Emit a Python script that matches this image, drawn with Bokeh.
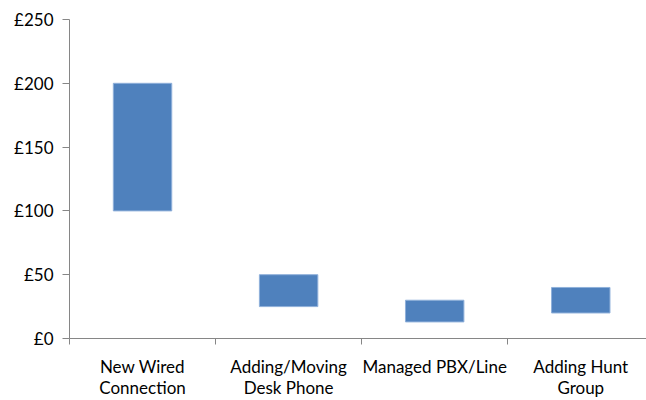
from bokeh.plotting import figure
from bokeh.models import Range1d, FixedTicker, PrintfTickFormatter, ColumnDataSource
from bokeh.embed import file_html
from bokeh.resources import INLINE

categories = ["New Wired\nConnection", "Adding/Moving\nDesk Phone", "Managed PBX/Line", "Adding Hunt\nGroup"]
low_values = [100, 25, 13, 20]
high_values = [200, 50, 30, 40]
y_ticks = [0, 50, 100, 150, 200, 250]

xpos = [i + 0.5 for i in range(len(categories))]
src = ColumnDataSource(dict(x=xpos, bottom=low_values, top=high_values))

p = figure(width=646, height=400, output_backend="svg", toolbar_location=None,
           x_range=Range1d(0, 3.95), y_range=Range1d(0, 250))
p.min_border_left = 69
p.min_border_right = 0
p.min_border_top = 19
p.min_border_bottom = 61
p.outline_line_color = None
p.grid.grid_line_color = None
p.background_fill_color = "white"
p.border_fill_color = "white"

p.vbar(x="x", bottom="bottom", top="top", width=0.4, source=src,
       fill_color="#4F81BD", line_color="#8FB0DA", line_width=1)

font = "Lato"
ax = p.xaxis[0]
ax.ticker = FixedTicker(ticks=xpos, minor_ticks=[0, 1, 2, 3])
ax.major_label_overrides = {x: c for x, c in zip(xpos, categories)}
ax.major_tick_line_color = None
ax.major_tick_out = 6
ax.minor_tick_out = 6
ax.minor_tick_in = 0
ax.minor_tick_line_color = "#868686"
ax.axis_line_color = "#868686"
ax.major_label_standoff = 11
ax.major_label_text_font = font
ax.major_label_text_font_size = "17px"
ax.major_label_text_line_height = 1.0
ax.major_label_text_color = "black"

ay = p.yaxis[0]
ay.ticker = FixedTicker(ticks=y_ticks, minor_ticks=[])
ay.formatter = PrintfTickFormatter(format="£%d")
ay.major_tick_out = 7
ay.major_tick_in = 0
ay.major_tick_line_color = "#868686"
ay.axis_line_color = "#868686"
ay.major_label_standoff = 9
ay.major_label_text_font = font
ay.major_label_text_font_size = "17px"
ay.major_label_text_color = "black"

open("out.html", "w").write(file_html(p, INLINE))
